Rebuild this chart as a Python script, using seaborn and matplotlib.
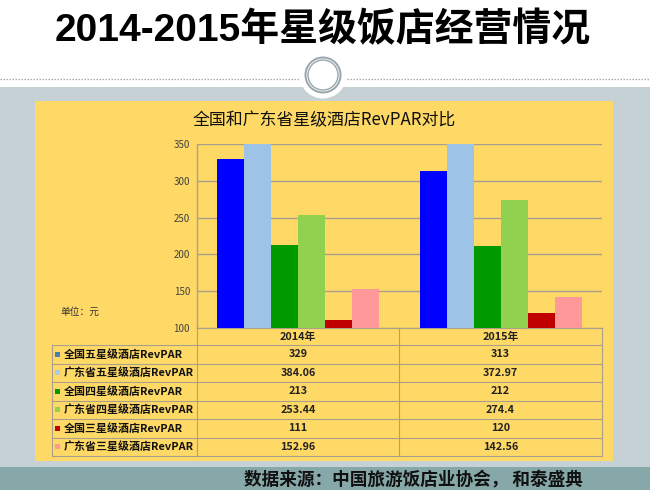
import matplotlib
matplotlib.use('Agg')
import matplotlib.pyplot as plt
import seaborn as sns
import pandas as pd
from matplotlib.patches import Rectangle, Circle

# ---------------- data ----------------
years = ['2014年', '2015年']
series = ['全国五星级酒店RevPAR', '广东省五星级酒店RevPAR', '全国四星级酒店RevPAR',
          '广东省四星级酒店RevPAR', '全国三星级酒店RevPAR', '广东省三星级酒店RevPAR']
values_2014 = [329, 384.06, 213, 253.44, 111, 152.96]
values_2015 = [313, 372.97, 212, 274.4, 120, 142.56]
y_ticks = [100, 150, 200, 250, 300, 350]

bar_colors = ['#0000FF', '#9DC3E6', '#009900', '#92D050', '#C00000', '#FF9999']
key_colors = ['#4A7EBB', '#A6CAEC', '#009900', '#92D050', '#C00000', '#FF9999']

main_title = '2014-2015年星级饭店经营情况'
chart_title = '全国和广东省星级酒店RevPAR对比'
unit_text = '单位：元'
source_text = '数据来源：中国旅游饭店业协会， 和泰盛典'

plt.rcParams['font.family'] = ['Noto Sans CJK SC', 'DejaVu Sans']

W, H = 650, 490
fig = plt.figure(figsize=(6.5, 4.9), dpi=100)
fig.patch.set_facecolor('white')

# background axes in pixel coordinates
bg = fig.add_axes([0, 0, 1, 1], zorder=0)
bg.set_xlim(0, W)
bg.set_ylim(H, 0)
bg.axis('off')

grid_col = '#a8a08a'
bg.add_patch(Rectangle((0, 87), W, 380, fc='#C6D1D6', ec='none', zorder=1))
bg.add_patch(Rectangle((0, 467), W, 23, fc='#87A8A8', ec='none', zorder=1))
bg.add_patch(Rectangle((35, 100.5), 578, 360.5, fc='#FFD966', ec='none', zorder=2))
bg.plot([0, 301], [79, 79], color='#a8a8a8', ls=(0, (1.2, 1.2)), lw=0.9, zorder=2)
bg.plot([347, W], [79, 79], color='#a8a8a8', ls=(0, (1.2, 1.2)), lw=0.9, zorder=2)
bg.add_patch(Circle((323, 75), 23.5, fc='white', ec='none', zorder=3))
bg.add_patch(Circle((323, 75), 17.5, fill=False, ec='#98a6ac', lw=1.4, zorder=4))
bg.add_patch(Circle((323, 75), 15, fill=False, ec='#98a6ac', lw=1.0, zorder=4))

bg.text(323, 31, main_title, ha='center', va='center', fontsize=28, fontweight='bold',
        family=['Liberation Sans', 'Noto Sans CJK SC'], color='black', zorder=5)
bg.text(324, 120, chart_title, ha='center', va='center', fontsize=12.2, color='#111111', zorder=5)
bg.text(60, 312, unit_text, ha='left', va='center', fontsize=7, color='#333333', zorder=5)
bg.text(583, 479, source_text, ha='right', va='center', fontsize=12.7, fontweight='bold',
        color='#111111', zorder=5)

# ---------------- table ----------------
col_x = [52, 197, 399, 602]
top, head_bot, row_h = 328, 345, 18.5
bottom = head_bot + row_h * len(series)
lw_t = 0.8
bg.plot([197, 602], [top, top], color=grid_col, lw=lw_t, zorder=5)
for k in range(len(series) + 1):
    yy = head_bot + row_h * k
    bg.plot([52, 602], [yy, yy], color=grid_col, lw=lw_t, zorder=5)
bg.plot([52, 52], [head_bot, bottom], color=grid_col, lw=lw_t, zorder=5)
for xx in col_x[1:]:
    bg.plot([xx, xx], [top, bottom], color=grid_col, lw=lw_t, zorder=5)

centers = [(col_x[1] + col_x[2]) / 2, (col_x[2] + col_x[3]) / 2]
for c, yr in zip(centers, years):
    bg.text(c, (top + head_bot) / 2, yr, ha='center', va='center', fontsize=7.8,
            fontweight='bold', color='#222222', zorder=6)
for i, name in enumerate(series):
    yc = head_bot + row_h * (i + 0.5)
    bg.add_patch(Rectangle((55, yc - 2.7), 5.4, 5.4, fc=key_colors[i], ec='none', zorder=6))
    bg.text(64, yc, name, ha='left', va='center', fontsize=7.9, fontweight='bold',
            color='#111111', zorder=6)
    for c, vals in zip(centers, [values_2014, values_2015]):
        bg.text(c, yc, f'{vals[i]:g}', ha='center', va='center', fontsize=7.8,
                fontweight='bold', color='#222222', zorder=6)

# ---------------- bars ----------------
rows = []
for i, name in enumerate(series):
    rows.append({'year': years[0], 'series': name, 'value': values_2014[i]})
    rows.append({'year': years[1], 'series': name, 'value': values_2015[i]})
df = pd.DataFrame(rows)

ax = fig.add_axes([197 / W, 1 - 328 / H, 405 / W, 184 / H], zorder=2)
ax.set_facecolor('none')
sns.barplot(data=df, x='year', y='value', hue='series', order=years, hue_order=series,
            palette=bar_colors, saturation=1, width=0.8, errorbar=None, legend=False,
            edgecolor='none', linewidth=0, ax=ax)
ax.set_ylim(100, 350)
ax.set_xlim(-0.5, 1.5)
ax.set_xticks([])
ax.set_xlabel('')
ax.set_ylabel('')
ax.set_yticks(y_ticks)
ax.set_yticklabels([str(v) for v in y_ticks])
ax.tick_params(axis='y', length=0, pad=5, labelsize=7, labelcolor='#404040')
ax.grid(axis='y', color=grid_col, lw=1)
ax.set_axisbelow(True)
for s in ['top', 'right', 'bottom']:
    ax.spines[s].set_visible(False)
ax.spines['left'].set_color(grid_col)
ax.spines['left'].set_linewidth(1)

fig.savefig('out.png', dpi=100)
